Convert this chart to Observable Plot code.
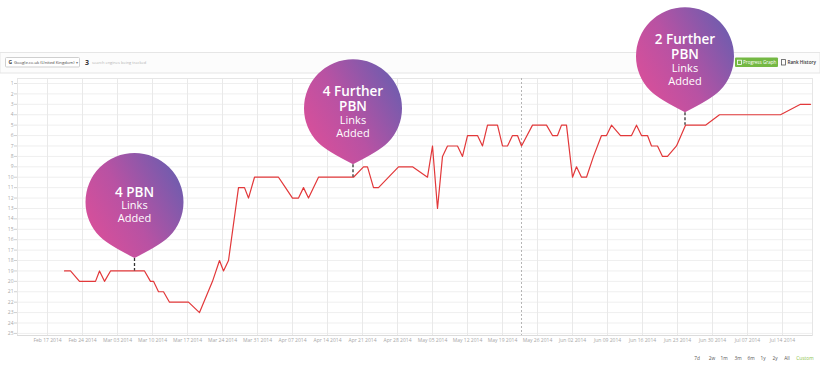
<!DOCTYPE html>
<html><head><meta charset="utf-8">
<script src="https://cdn.jsdelivr.net/npm/d3@7"></script>
<script src="https://cdn.jsdelivr.net/npm/@observablehq/plot@0.6"></script>
<style>
body{margin:0;background:#fff;}
#chart{position:relative;width:820px;height:369px;overflow:hidden;}
</style>
</head><body><div id="chart"></div>
<script>
// x = days since Feb 17 2014 (first labelled week)
const days  = [3.4,4.6,6.4,9.6,10.4,11.4,12.6,19.4,20.6,21.2,22.2,23.2,24.4,28.2,30.4,33,34.4,35.2,36.2,38.2,39.4,40.2,41.4,46.2,47.6,49,50.2,51.2,52.2,54.2,61.2,63.2,64,65.2,66.2,70.2,73,76,77,78,79,80,82,83,84,86,87,88,90,91,92,93,94,94.8,97,99.8,101,102,102.8,103.8,105,105.8,106.8,107.8,109.2,110.8,111.8,112.8,114.6,116.8,117.8,118.8,120,120.8,122,123,124,125.8,127.6,131.6,134.4,146.6,150.6,152.6];
const ranks = [19,19,20,20,19,20,19,19,20,20,21,21,22,22,23,20,18,19,18,11,11,12,10,10,11,12,12,11,12,10,10,9,9,11,11,9,9,10,7,13,8,7,7,8,6,6,7,5,5,7,7,6,6,7,5,5,6,6,5,5,10,9,10,10,8,6,6,5,6,6,5,6,6,7,7,8,8,7,5,5,4,4,3,3];

const tickDays = [0,7,14,21,28,35,42,49,56,63,70,77,84,91,98,105,112,119,126,133,140,147];
const tickLabels = ["Feb 17 2014","Feb 24 2014","Mar 03 2014","Mar 10 2014","Mar 17 2014","Mar 24 2014","Mar 31 2014","Apr 07 2014","Apr 14 2014","Apr 21 2014","Apr 28 2014","May 05 2014","May 12 2014","May 19 2014","May 26 2014","Jun 02 2014","Jun 09 2014","Jun 16 2014","Jun 23 2014","Jun 30 2014","Jul 07 2014","Jul 14 2014"];
const rankTicks = [1,2,3,4,5,6,7,8,9,10,11,12,13,14,15,16,17,18,19,20,21,22,23,24,25];

const markerDays = [94.8];

const noteDays  = [17.5, 61.2, 127.6];
const noteRanks = [19, 10, 5];
const noteLines = [["4 PBN","Links","Added"],["4 Further","PBN","Links","Added"],["2 Further","PBN","Links","Added"]];
const noteBoldCount = [1, 2, 2];

const engineLabel = "Google.co.uk (United Kingdom)";
const trackedCount = "3";
const trackedText = "search engines being tracked";
const headerButtons = ["Progress Graph", "Rank History"];
const rangeButtons = ["7d","2w","1m","3m","6m","1y","2y","All","Custom"];

const data = days.map((d, i) => ({day: d, rank: ranks[i]}));
const labelOf = new Map(tickDays.map((d, i) => [d, tickLabels[i]]));

const plot = Plot.plot({
  width: 820, height: 369,
  marginLeft: 17, marginRight: 8, marginTop: 78, marginBottom: 34,
  style: {fontFamily: "'Open Sans', sans-serif", fontSize: "5px", color: "#a8a8a8", background: "transparent"},
  x: {domain: [-6, 153], label: null},
  y: {domain: [0.52, 25.2], reverse: true, label: null},
  marks: [
    Plot.gridY(rankTicks, {stroke: "#efefef", strokeOpacity: 1}),
    Plot.gridX(tickDays, {stroke: "#e9e9e9", strokeOpacity: 1}),
    Plot.frame({stroke: "#e6e6e6"}),
    Plot.ruleX(markerDays, {stroke: "#b5b5b5", strokeDasharray: "2,2"}),
    Plot.axisY(rankTicks, {tickSize: 3, tickPadding: 1, stroke: "#cfcfcf", fill: "#a8a8a8"}),
    Plot.axisX(tickDays, {tickSize: 0, tickPadding: 3, tickFormat: d => labelOf.get(d), fill: "#a8a8a8"}),
    Plot.ruleY([25.2], {stroke: "#dcdcdc"}),
    Plot.line(data, {x: "day", y: "rank", stroke: "#e2383a", strokeWidth: 1.2})
  ]
});
document.getElementById("chart").append(plot);

const svg = d3.select(plot);
const xs = plot.scale("x"), ys = plot.scale("y");

// gradient for the callouts
const defs = svg.append("defs");
const grad = defs.append("linearGradient").attr("id", "bubbleGrad")
  .attr("x1", 0).attr("y1", 0.8).attr("x2", 1).attr("y2", 0.2);
grad.append("stop").attr("offset", "0").attr("stop-color", "#dc4f99");
grad.append("stop").attr("offset", "0.45").attr("stop-color", "#b852a3");
grad.append("stop").attr("offset", "1").attr("stop-color", "#6a5daf");

function txt(g, x, y, s, size, fill, opts = {}) {
  return g.append("text").attr("x", x).attr("y", y)
    .attr("text-anchor", opts.anchor || "start")
    .attr("dominant-baseline", "central")
    .attr("font-size", size).attr("font-weight", opts.weight || 400)
    .attr("fill", fill).text(s);
}

// header bar
const hdr = svg.append("g").attr("font-family", "'Open Sans', sans-serif");
hdr.append("rect").attr("x", 0).attr("y", 52.5).attr("width", 820).attr("height", 20.5)
  .attr("fill", "#fcfcfc").attr("stroke", "#e6e6e6");
hdr.append("rect").attr("x", 5.5).attr("y", 57.5).attr("width", 74).attr("height", 9.5)
  .attr("fill", "#fff").attr("stroke", "#cfcfcf").attr("rx", 1);
txt(hdr, 8.5, 62.3, "G", 5, "#444", {weight: 700});
txt(hdr, 14, 62.3, engineLabel, 4.2, "#444");
txt(hdr, 76.5, 62.3, "▾", 4, "#777", {anchor: "middle"});
txt(hdr, 85, 62.3, trackedCount, 7, "#333", {weight: 700});
txt(hdr, 92, 62.5, trackedText, 4, "#b3b3b3");
hdr.append("rect").attr("x", 735).attr("y", 57.5).attr("width", 43).attr("height", 9.5)
  .attr("fill", "#74b843").attr("rx", 1);
hdr.append("rect").attr("x", 737.5).attr("y", 60.2).attr("width", 4).attr("height", 4.3)
  .attr("fill", "none").attr("stroke", "#fff").attr("stroke-width", 0.8);
txt(hdr, 743, 62.3, headerButtons[0], 4.6, "#fff");
hdr.append("rect").attr("x", 781.5).attr("y", 59.6).attr("width", 4).attr("height", 5.4)
  .attr("fill", "none").attr("stroke", "#555").attr("stroke-width", 0.8);
txt(hdr, 787.5, 62.3, headerButtons[1], 4.6, "#333", {weight: 600});

// range buttons
const rangeX = [697, 712, 724, 738, 751, 763, 775, 787, 805];
const rb = svg.append("g").attr("font-family", "'Open Sans', sans-serif");
rangeButtons.forEach((t, i) => {
  txt(rb, rangeX[i], 358, t, 4.8, t === "Custom" ? "#8bc34a" : "#555", {anchor: "middle"});
});

// callouts
function drop(cx, cy, r, tipY) {
  const a = 45 * Math.PI / 180;
  const s = Math.sin(a), c = Math.cos(a);
  const lx = cx - r * s, ly = cy + r * c, rx = cx + r * s;
  const t = 12;
  const clx = lx + t * c, cly = ly + t * s, crx = rx - t * c;
  return `M${cx},${tipY} Q${clx},${cly} ${lx},${ly} A${r},${r} 0 1 1 ${rx},${ly} Q${crx},${cly} ${cx},${tipY} Z`;
}
const notes = svg.append("g").attr("font-family", "'Open Sans', sans-serif");
noteDays.forEach((d, i) => {
  const px = xs.apply(d), py = ys.apply(noteRanks[i]);
  const tipY = py - 12.5, r = 49, cy = tipY - 56;
  notes.append("line").attr("x1", px).attr("x2", px).attr("y1", tipY).attr("y2", py)
    .attr("stroke", "#333").attr("stroke-width", 1.3).attr("stroke-dasharray", "3,2");
  notes.append("path").attr("d", drop(px, cy, r, tipY)).attr("fill", "url(#bubbleGrad)");
  const lines = noteLines[i];
  const offs = lines.length === 3 ? [-10, 3, 16] : [-17.5, -2.5, 11.5, 24];
  lines.forEach((t, j) => {
    const bold = j < noteBoldCount[i];
    txt(notes, px, cy + offs[j], t, bold ? 13.5 : 11, "#fff", {anchor: "middle", weight: bold ? 600 : 400});
  });
});
</script>
</body></html>
